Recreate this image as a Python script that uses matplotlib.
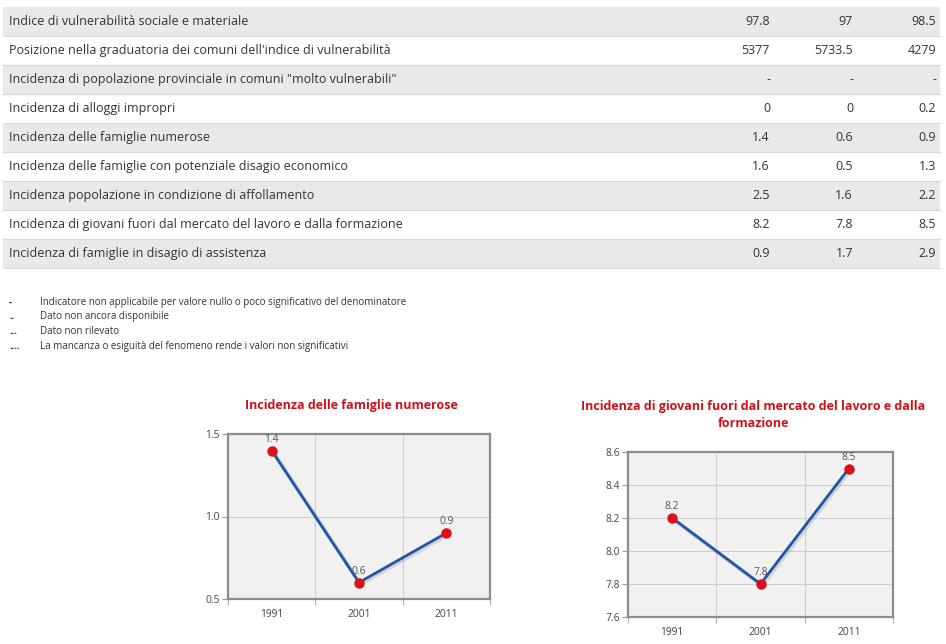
import numpy as np
import matplotlib.pyplot as plt
import matplotlib.transforms as mtransforms
from matplotlib.patches import Rectangle

plt.rcParams['font.family'] = ['Open Sans', 'DejaVu Sans']

# ---- data ----
row_labels = [
    "Indice di vulnerabilità sociale e materiale",
    "Posizione nella graduatoria dei comuni dell'indice di vulnerabilità",
    "Incidenza di popolazione provinciale in comuni \"molto vulnerabili\"",
    "Incidenza di alloggi impropri",
    "Incidenza delle famiglie numerose",
    "Incidenza delle famiglie con potenziale disagio economico",
    "Incidenza popolazione in condizione di affollamento",
    "Incidenza di giovani fuori dal mercato del lavoro e dalla formazione",
    "Incidenza di famiglie in disagio di assistenza",
]
col_1991 = ["97.8", "5377", "-", "0", "1.4", "1.6", "2.5", "8.2", "0.9"]
col_2001 = ["97", "5733.5", "-", "0", "0.6", "0.5", "1.6", "7.8", "1.7"]
col_2011 = ["98.5", "4279", "-", "0.2", "0.9", "1.3", "2.2", "8.5", "2.9"]

note_symbols = ["-", "..", "...", "...."]
note_texts = [
    "Indicatore non applicabile per valore nullo o poco significativo del denominatore",
    "Dato non ancora disponibile",
    "Dato non rilevato",
    "La mancanza o esiguità del fenomeno rende i valori non significativi",
]

years = ["1991", "2001", "2011"]
famiglie_numerose = [1.4, 0.6, 0.9]
giovani_fuori = [8.2, 7.8, 8.5]

W, H = 946, 644
fig = plt.figure(figsize=(W / 100, H / 100), dpi=100)
fig.patch.set_facecolor("white")

# full-figure axes in pixel coordinates for table + notes
bg = fig.add_axes([0, 0, 1, 1])
bg.set_xlim(0, W)
bg.set_ylim(H, 0)
bg.axis("off")

top, rh = 7, 29
col_x = [770, 853, 936]
for i, lab in enumerate(row_labels):
    y0 = top + i * rh
    color = "#e9e9e9" if i % 2 == 0 else "white"
    bg.add_patch(Rectangle((3, y0), 937, rh, facecolor=color, edgecolor="none"))
    bg.plot([3, 940], [y0 + rh, y0 + rh], color="#d6d6d6", lw=0.8)
    yc = y0 + rh / 2
    bg.text(9, yc, lab, fontsize=9, color="#333333", va="center", ha="left")
    for x, col in zip(col_x, [col_1991, col_2001, col_2011]):
        bg.text(x, yc, col[i], fontsize=9, color="#333333", va="center", ha="right")

for i, (s, t) in enumerate(zip(note_symbols, note_texts)):
    y = 304.5 + i * 14.7
    bg.text(9, y, s, fontsize=7, color="#333333", va="baseline", ha="left", fontweight="bold")
    bg.text(40, y, t, fontsize=7, color="#333333", va="baseline", ha="left")


def px_axes(x0, y0, x1, y1):
    return fig.add_axes([x0 / W, 1 - y1 / H, (x1 - x0) / W, (y1 - y0) / H])


def line_chart(ax, vals, yticks, title, title_xy):
    x = np.arange(len(years))
    ax.set_facecolor("#f1f1f1")
    ax.set_xlim(-0.5, len(years) - 0.5)
    ax.set_ylim(yticks[0], yticks[-1])
    ax.set_yticks(yticks)
    ax.set_yticklabels([f"{v:.1f}" for v in yticks])
    ax.set_xticks(x)
    ax.set_xticklabels(years)
    ax.set_xticks(np.arange(len(years) + 1) - 0.5, minor=True)
    ax.grid(True, which="major", axis="y", color="#cfcfcf", lw=0.8)
    ax.grid(True, which="minor", axis="x", color="#cfcfcf", lw=0.8)
    ax.tick_params(axis="x", which="major", length=0, pad=7, labelsize=7.4, colors="#444444")
    ax.tick_params(axis="x", which="minor", length=4, color="#999999")
    ax.tick_params(axis="y", length=4, color="#999999", labelsize=7.4, labelcolor="#444444", pad=2)
    for sp in ax.spines.values():
        sp.set_color("#8c8c8c")
        sp.set_linewidth(1.6)
    shadow = ax.transData + mtransforms.ScaledTranslation(1.5 / 100, -1.5 / 100, fig.dpi_scale_trans)
    ax.plot(x, vals, color="#7a7a7a", lw=3, alpha=0.25, zorder=2, transform=shadow)
    ax.plot(x, vals, color="#1f56a5", lw=2, zorder=3)
    ax.plot(x, vals, "o", color="#dd0f1a", ms=6.5, zorder=4)
    for xi, v in zip(x, vals):
        ax.annotate(f"{v}", (xi, v), xytext=(0, 4), textcoords="offset points",
                    ha="center", va="bottom", fontsize=7.4, color="#555555", zorder=5)
    bg.text(title_xy[0], title_xy[1], title, fontsize=9, fontweight="bold",
            color="#d0101a", ha="center", va="center", linespacing=1.4)


ax1 = px_axes(228, 434, 490, 599)
line_chart(ax1, famiglie_numerose, [0.5, 1.0, 1.5],
           "Incidenza delle famiglie numerose", (351, 405))

ax2 = px_axes(628, 452, 893, 617)
line_chart(ax2, giovani_fuori, [7.6, 7.8, 8.0, 8.2, 8.4, 8.6],
           "Incidenza di giovani fuori dal mercato del lavoro e dalla\nformazione", (753, 415))

fig.savefig("out.png", dpi=100)
